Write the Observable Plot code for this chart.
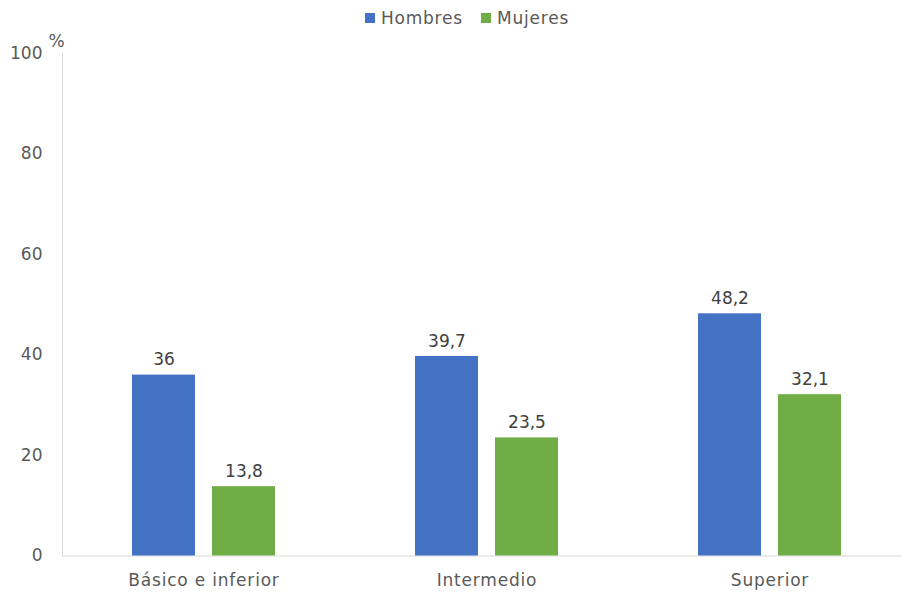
<!DOCTYPE html>
<html>
<head>
<meta charset="utf-8">
<script src="https://cdn.jsdelivr.net/npm/d3@7"></script>
<script src="https://cdn.jsdelivr.net/npm/@observablehq/plot@0.6"></script>
<style>
  html, body { margin: 0; padding: 0; background: #fff; }
  body { width: 902px; height: 594px; overflow: hidden; font-family: "DejaVu Sans", sans-serif; color: #595959; }
  #legend { height: 26px; padding-top: 10px; display: flex; justify-content: center; align-items: center; padding-left: 32px; box-sizing: border-box; font-size: 17px; letter-spacing: 0.8px; }
  .item { display: flex; align-items: center; margin: 0 9px; }
  .sw { width: 10px; height: 10px; margin-right: 6px; }
  [aria-label="fx-axis tick label"] text { letter-spacing: 0.8px; }
</style>
</head>
<body>
<div id="legend"></div>
<div id="chart"></div>
<script>
const categories = ["Básico e inferior", "Intermedio", "Superior"];
const series = ["Hombres", "Mujeres"];
const hombres = [36, 39.7, 48.2];
const mujeres = [13.8, 23.5, 32.1];
const yTicks = [0, 20, 40, 60, 80, 100];
const colors = ["#4472C4", "#70AD47"];

const data = [];
categories.forEach((c, i) => {
  data.push({cat: c, serie: "Hombres", value: hombres[i]});
  data.push({cat: c, serie: "Mujeres", value: mujeres[i]});
});
const fmt = v => String(v).replace(".", ",");
const baseInner = categories.slice(0, -1).map(c => ({cat: c, v: 0}));
const baseLast = categories.slice(-1).map(c => ({cat: c, v: 0}));

const legend = document.getElementById("legend");
series.forEach((s, i) => {
  const it = document.createElement("div");
  it.className = "item";
  it.innerHTML = `<span class="sw" style="background:${colors[i]}"></span><span>${s}</span>`;
  legend.appendChild(it);
});

const chart = Plot.plot({
  width: 902,
  height: 568,
  marginTop: 27,
  marginBottom: 38.5,
  marginLeft: 61,
  marginRight: 0,
  style: {fontFamily: "DejaVu Sans, sans-serif", fontSize: "17px", color: "#595959", background: "#fff"},
  fx: {domain: categories, range: [61, 911], padding: 0, label: null, axis: null},
  x: {domain: series, paddingInner: 0.21, paddingOuter: 0.855, axis: null},
  y: {domain: [0, 100], axis: null},
  color: {domain: series, range: colors},
  marks: [
    Plot.frame({anchor: "left", stroke: "#d9d9d9", facetAnchor: "left"}),
    Plot.ruleY(baseInner, {fx: "cat", y: "v", stroke: "#d9d9d9"}),
    Plot.ruleY(baseLast, {fx: "cat", y: "v", stroke: "#d9d9d9", insetRight: -20}),
    Plot.barY(data, {fx: "cat", x: "serie", y: "value", fill: "serie"}),
    Plot.text(data, {fx: "cat", x: "serie", y: "value", text: d => fmt(d.value), dy: -10, lineAnchor: "bottom", fill: "#404040", fontSize: 17}),
    Plot.axisY({ticks: yTicks, tickSize: 0, tickPadding: 20, label: null, fill: "#595959", fontSize: 17}),
    Plot.axisFx({anchor: "bottom", tickSize: 0, tickPadding: 18, label: null, fill: "#595959", fontSize: 17}),
    Plot.text([{cat: categories[0]}], {fx: "cat", frameAnchor: "top-left", text: () => "%", textAnchor: "middle", dx: -6, dy: -19, fill: "#595959", fontSize: 17})
  ]
});
document.getElementById("chart").appendChild(chart);
</script>
</body>
</html>
